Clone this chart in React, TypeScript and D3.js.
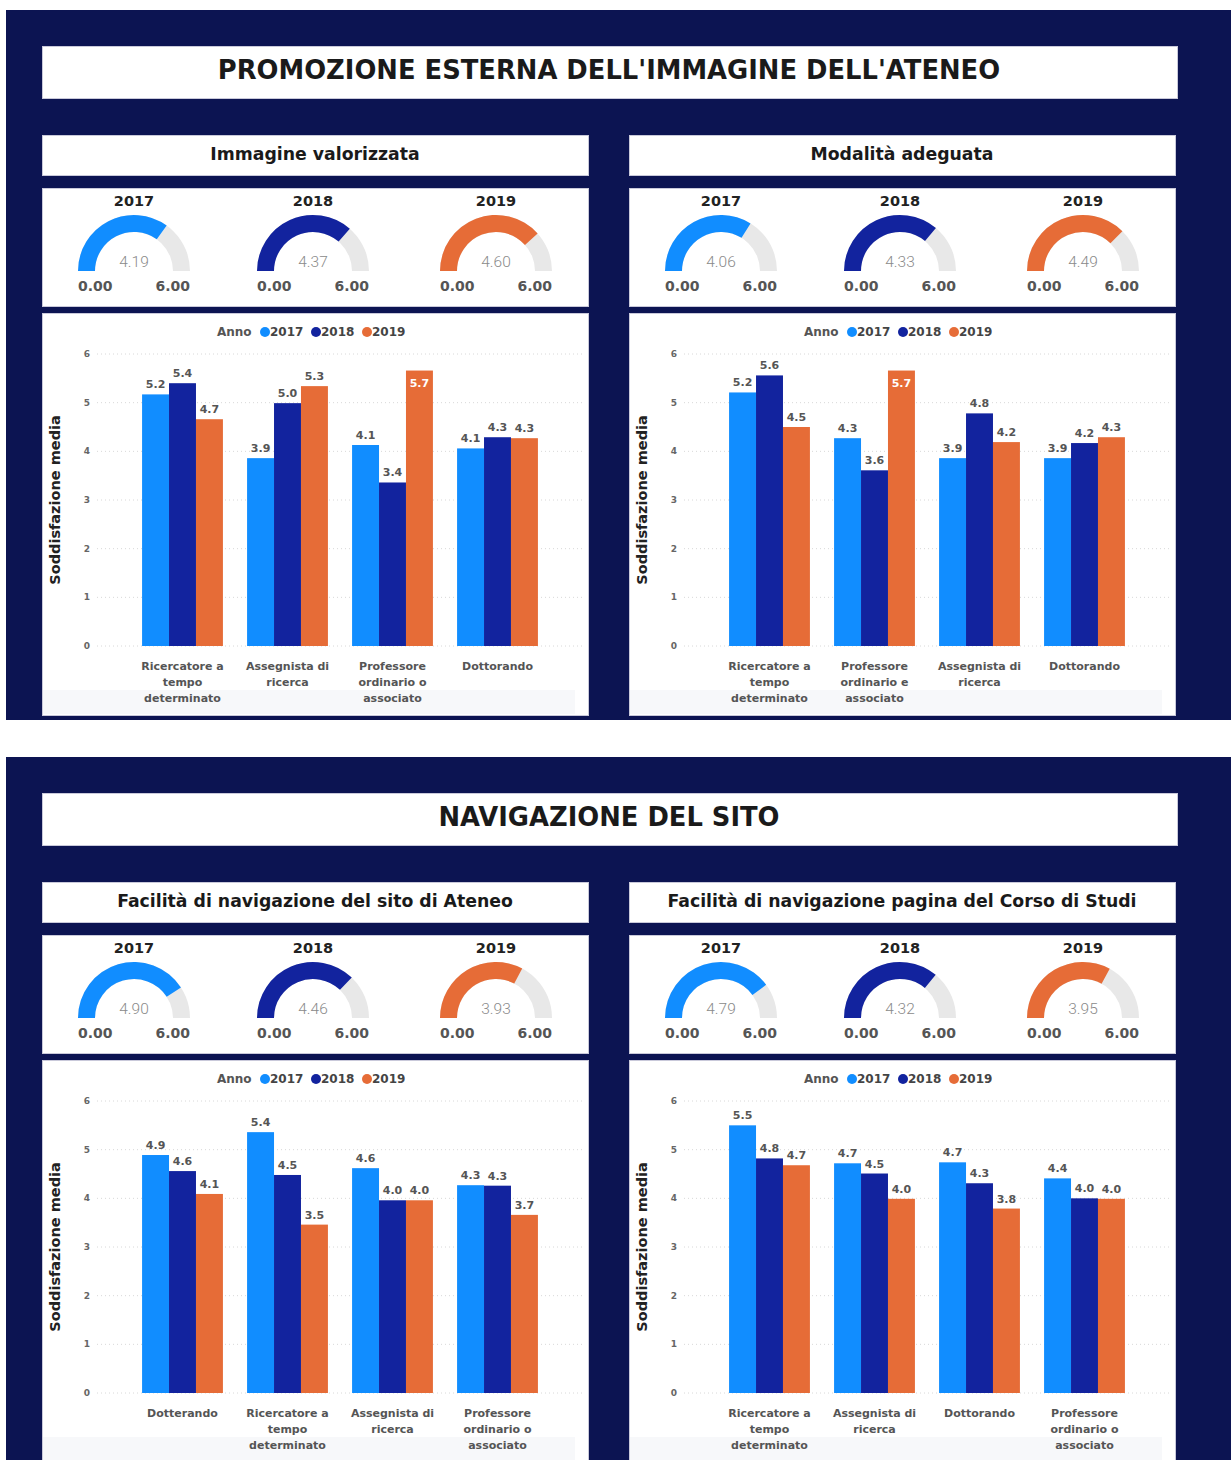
import React from "react";
import * as d3 from "d3";

// ---------- DATA ----------
const years = ["2017", "2018", "2019"];
const yearColors = ["#118DFF", "#12239E", "#E66C37"];
const yTicks = [0, 1, 2, 3, 4, 5, 6];

const section1Title = "PROMOZIONE ESTERNA DELL'IMMAGINE DELL'ATENEO";
const section2Title = "NAVIGAZIONE DEL SITO";

const chart1Title = "Immagine valorizzata";
const chart1Gauge = [4.19, 4.37, 4.6];
const chart1Categories = ["Ricercatore a tempo determinato", "Assegnista di ricerca", "Professore ordinario o associato", "Dottorando"];
const chart1_2017 = [5.17, 3.86, 4.13, 4.06];
const chart1_2018 = [5.4, 4.99, 3.36, 4.29];
const chart1_2019 = [4.66, 5.34, 5.66, 4.27];

const chart2Title = "Modalità adeguata";
const chart2Gauge = [4.06, 4.33, 4.49];
const chart2Categories = ["Ricercatore a tempo determinato", "Professore ordinario e associato", "Assegnista di ricerca", "Dottorando"];
const chart2_2017 = [5.21, 4.27, 3.86, 3.86];
const chart2_2018 = [5.56, 3.61, 4.78, 4.17];
const chart2_2019 = [4.5, 5.66, 4.19, 4.29];

const chart3Title = "Facilità di navigazione del sito di Ateneo";
const chart3Gauge = [4.9, 4.46, 3.93];
const chart3Categories = ["Dotterando", "Ricercatore a tempo determinato", "Assegnista di ricerca", "Professore ordinario o associato"];
const chart3_2017 = [4.89, 5.36, 4.62, 4.27];
const chart3_2018 = [4.56, 4.48, 3.96, 4.26];
const chart3_2019 = [4.09, 3.46, 3.96, 3.66];

const chart4Title = "Facilità di navigazione pagina del Corso di Studi";
const chart4Gauge = [4.79, 4.32, 3.95];
const chart4Categories = ["Ricercatore a tempo determinato", "Assegnista di ricerca", "Dottorando", "Professore ordinario o associato"];
const chart4_2017 = [5.5, 4.72, 4.74, 4.41];
const chart4_2018 = [4.82, 4.51, 4.31, 4.0];
const chart4_2019 = [4.68, 3.99, 3.79, 3.99];

const gaugeMin = 0;
const gaugeMax = 6;

// ---------- STYLE ----------
const NAVY = "#0c1452";
const FONT = "'DejaVu Sans', 'Liberation Sans', Arial, sans-serif";
const BORDER = "#c9c9da";

function wrapWords(s: string, maxChars: number): string[] {
  const words = s.split(" ");
  const lines: string[] = [];
  let cur = "";
  for (const w of words) {
    const next = cur ? cur + " " + w : w;
    if (next.length > maxChars && cur) {
      lines.push(cur);
      cur = w;
    } else cur = next;
  }
  if (cur) lines.push(cur);
  return lines;
}

function Box({ x, y, w, h }: { x: number; y: number; w: number; h: number }) {
  return <rect x={x + 0.5} y={y + 0.5} width={w} height={h} fill="#fff" stroke={BORDER} strokeWidth={1} />;
}

function Gauge({ cx, cy, value, year, color }: { cx: number; cy: number; value: number; year: string; color: string }) {
  const R = 56, r = 39;
  const a = d3.scaleLinear().domain([gaugeMin, gaugeMax]).range([-Math.PI / 2, Math.PI / 2]);
  const arc = d3.arc<any>().innerRadius(r).outerRadius(R);
  const bg = arc({ startAngle: a(gaugeMin), endAngle: a(gaugeMax) } as any) || "";
  const fg = arc({ startAngle: a(gaugeMin), endAngle: a(value) } as any) || "";
  return (
    <g>
      <text x={cx} y={cy - 65} textAnchor="middle" fontFamily={FONT} fontWeight="bold" fontSize={14.5} fill="#222">{year}</text>
      <g transform={`translate(${cx},${cy})`}>
        <path d={bg} fill="#e8e8e8" />
        <path d={fg} fill={color} />
      </g>
      <text x={cx} y={cy - 4} textAnchor="middle" fontFamily="Roboto, sans-serif" fontWeight={300} fontSize={15.5} fill="#8a8a8a">{value.toFixed(2)}</text>
      <text x={cx - R} y={cy + 20} textAnchor="start" fontFamily={FONT} fontWeight="bold" fontSize={14} fill="#555">{gaugeMin.toFixed(2)}</text>
      <text x={cx + R} y={cy + 20} textAnchor="end" fontFamily={FONT} fontWeight="bold" fontSize={14} fill="#555">{gaugeMax.toFixed(2)}</text>
    </g>
  );
}

function GaugeRow({ x, y, w, values }: { x: number; y: number; w: number; values: number[] }) {
  const offsets = [92, 271, 454];
  return (
    <g>
      <Box x={x} y={y} w={w} h={118} />
      {values.map((v, i) => (
        <Gauge key={i} cx={x + offsets[i]} cy={y + 83} value={v} year={years[i]} color={yearColors[i]} />
      ))}
    </g>
  );
}

function BarChart({ x, y, w, h, categories, series }: { x: number; y: number; w: number; h: number; categories: string[]; series: number[][] }) {
  const yScale = d3.scaleLinear().domain([0, 6]).range([y + 333, y + 41]);
  const xBand = d3.scaleBand<string>().domain(categories).range([x + 88, x + 508]).paddingInner(0.23).paddingOuter(0.115);
  const xInner = d3.scaleBand<string>().domain(years).range([0, xBand.bandwidth()]).padding(0);
  const cx = x + w / 2;
  const legendOffsets = [-50, 1, 52];
  return (
    <g>
      <Box x={x} y={y} w={w} h={h} />
      <rect x={x + 1} y={y + 377} width={w - 14} height={h - 378} fill="#f7f8fa" />
      {/* legend */}
      <text x={cx - 98} y={y + 23} fontFamily={FONT} fontWeight="bold" fontSize={12} fill="#555">Anno</text>
      {years.map((yr, i) => (
        <g key={yr}>
          <circle cx={cx + legendOffsets[i]} cy={y + 19} r={5} fill={yearColors[i]} />
          <text x={cx + legendOffsets[i] + 5} y={y + 23} fontFamily={FONT} fontWeight="bold" fontSize={12} fill="#444">{yr}</text>
        </g>
      ))}
      {/* grid + ticks */}
      {yTicks.map((t) => (
        <g key={t}>
          <line x1={x + 55} x2={x + 540} y1={yScale(t)} y2={yScale(t)} stroke="#d8d8d8" strokeWidth={1} strokeDasharray="1,3" />
          <text x={x + 45} y={yScale(t) + 3} textAnchor="middle" fontFamily={FONT} fontWeight="bold" fontSize={9} fill="#666">{t}</text>
        </g>
      ))}
      {/* axis title */}
      <text transform={`translate(${x + 18},${y + 187}) rotate(-90)`} textAnchor="middle" fontFamily={FONT} fontWeight="bold" fontSize={14.5} fill="#222">Soddisfazione media</text>
      {/* bars */}
      {categories.map((c, ci) => (
        <g key={c}>
          {series.map((s, si) => {
            const v = s[ci];
            const bx = (xBand(c) || 0) + (xInner(years[si]) || 0);
            const bw = xInner.bandwidth();
            const top = yScale(v);
            const inside = v > 5.6;
            return (
              <g key={si}>
                <rect x={bx} y={top} width={bw} height={yScale(0) - top} fill={yearColors[si]} />
                <text x={bx + bw / 2} y={inside ? top + 16 : top - 6} textAnchor="middle" fontFamily={FONT} fontWeight="bold" fontSize={11} fill={inside ? "#fff" : "#555"}>{v.toFixed(1)}</text>
              </g>
            );
          })}
          {wrapWords(c, 13).map((line, li) => (
            <text key={li} x={(xBand(c) || 0) + xBand.bandwidth() / 2} y={y + 357 + li * 16} textAnchor="middle" fontFamily={FONT} fontWeight="bold" fontSize={11} fill="#555">{line}</text>
          ))}
        </g>
      ))}
    </g>
  );
}

function Section({ top, title, left, right }: { top: number; title: string; left: any; right: any }) {
  const colX = [42, 629];
  const items = [left, right];
  return (
    <g>
      <rect x={6} y={top} width={1225} height={710} fill={NAVY} />
      <Box x={42} y={top + 36} w={1135} h={52} />
      <text x={609} y={top + 69} textAnchor="middle" fontFamily={FONT} fontWeight="bold" fontSize={25.8} fill="#1a1a1a">{title}</text>
      {items.map((it, i) => (
        <g key={i}>
          <Box x={colX[i]} y={top + 125} w={546} h={40} />
          <text x={colX[i] + 273} y={top + 150} textAnchor="middle" fontFamily={FONT} fontWeight="bold" fontSize={17.3} fill="#1a1a1a">{it.title}</text>
          <GaugeRow x={colX[i]} y={top + 178} w={546} values={it.gauge} />
          <BarChart x={colX[i]} y={top + 303} w={546} h={402} categories={it.categories} series={it.series} />
        </g>
      ))}
    </g>
  );
}

export default function App() {
  const s1 = [
    { title: chart1Title, gauge: chart1Gauge, categories: chart1Categories, series: [chart1_2017, chart1_2018, chart1_2019] },
    { title: chart2Title, gauge: chart2Gauge, categories: chart2Categories, series: [chart2_2017, chart2_2018, chart2_2019] },
  ];
  const s2 = [
    { title: chart3Title, gauge: chart3Gauge, categories: chart3Categories, series: [chart3_2017, chart3_2018, chart3_2019] },
    { title: chart4Title, gauge: chart4Gauge, categories: chart4Categories, series: [chart4_2017, chart4_2018, chart4_2019] },
  ];
  return (
    <svg width={1231} height={1460} style={{ position: "absolute", left: 0, top: 0, background: "#fff" }}>
      <rect x={0} y={0} width={1231} height={1460} fill="#fff" />
      <Section top={10} title={section1Title} left={s1[0]} right={s1[1]} />
      <Section top={757} title={section2Title} left={s2[0]} right={s2[1]} />
    </svg>
  );
}
